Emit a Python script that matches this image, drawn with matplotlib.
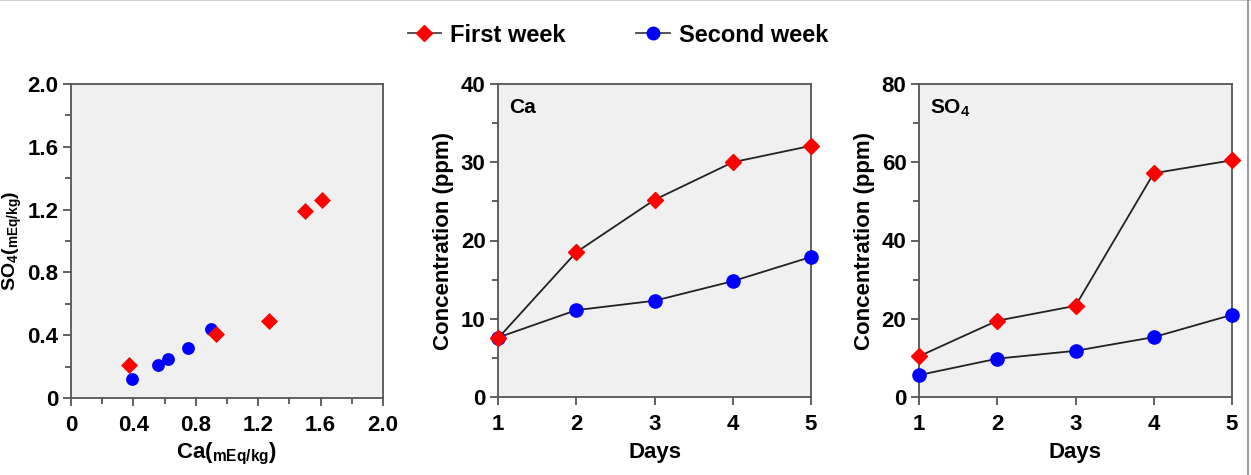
import numpy as np
import matplotlib
matplotlib.use("agg")
import matplotlib.pyplot as plt
from matplotlib.ticker import MultipleLocator
from matplotlib.lines import Line2D

plt.rcParams['font.family'] = ['Liberation Sans', 'DejaVu Sans']
plt.rcParams['font.weight'] = 'bold'
plt.rcParams['mathtext.fontset'] = 'custom'
plt.rcParams['mathtext.rm'] = 'Liberation Sans:bold'
plt.rcParams['mathtext.bf'] = 'Liberation Sans:bold'
plt.rcParams['mathtext.it'] = 'Liberation Sans:bold'

# scatter: Ca vs SO4 (mEq/kg)
ca_w1 = [0.37, 0.93, 1.27, 1.50, 1.61]
so4_w1 = [0.21, 0.41, 0.49, 1.19, 1.26]
ca_w2 = [0.39, 0.56, 0.62, 0.75, 0.90]
so4_w2 = [0.12, 0.21, 0.25, 0.32, 0.44]

# time series (ppm)
days = [1, 2, 3, 4, 5]
ca_ppm_w1 = [7.5, 18.5, 25.2, 30.0, 32.1]
ca_ppm_w2 = [7.6, 11.1, 12.3, 14.8, 17.9]
so4_ppm_w1 = [10.4, 19.5, 23.3, 57.2, 60.5]
so4_ppm_w2 = [5.6, 9.8, 11.8, 15.3, 21.0]

red = '#ff0000'
blue = '#0000ff'
bg = '#f0f0f0'
spine_c = '#555555'
fs = 16

fig = plt.figure(figsize=(12.51, 4.75), dpi=100)
W, H = 1251, 475

def add_ax(l, r, t, b):
    return fig.add_axes([l / W, 1 - b / H, (r - l) / W, (b - t) / H])

ax1 = add_ax(71, 383, 84, 398)
ax2 = add_ax(498, 811, 84, 397)
ax3 = add_ax(919, 1232, 84, 397)

def style(ax):
    ax.set_facecolor(bg)
    for s in ax.spines.values():
        s.set_color(spine_c)
        s.set_linewidth(1.3)
    ax.tick_params(which='both', direction='out', color=spine_c, width=1.3,
                   labelsize=fs)
    ax.tick_params(axis='x', pad=6)
    ax.tick_params(axis='y', pad=3)
    ax.tick_params(which='major', length=6)
    ax.tick_params(which='minor', length=4)
    for lab in ax.get_xticklabels() + ax.get_yticklabels():
        lab.set_fontweight('bold')

# panel 1
ax1.scatter(ca_w2, so4_w2, s=85, marker='o', color=blue, zorder=3, linewidths=0)
ax1.scatter(ca_w1, so4_w1, s=75, marker='D', color=red, zorder=4, linewidths=0)
ax1.set_xlim(0, 2.0)
ax1.set_ylim(0, 2.0)
ticks = [0, 0.4, 0.8, 1.2, 1.6, 2.0]
ticklabels = ['0', '0.4', '0.8', '1.2', '1.6', '2.0']
ax1.set_xticks(ticks, ticklabels)
ax1.set_yticks(ticks, ticklabels)
ax1.xaxis.set_minor_locator(MultipleLocator(0.2))
ax1.yaxis.set_minor_locator(MultipleLocator(0.2))
ax1.set_xlabel(r'Ca($\mathregular{_{mEq/kg}}$)', fontsize=fs, fontweight='bold', labelpad=4)
ax1.set_ylabel(r'SO$\mathregular{_4}$($\mathregular{_{mEq/kg}}$)', fontsize=14, fontweight='bold')
ax1.yaxis.set_label_coords(-0.15, 0.5)
style(ax1)

def series(ax, y1, y2, ymax, minor, name):
    ax.plot(days, y2, color='#222222', lw=1.3, marker='o', ms=9.5,
            mfc=blue, mec=blue, zorder=3, clip_on=False)
    ax.plot(days, y1, color='#222222', lw=1.3, marker='D', ms=8.5,
            mfc=red, mec=red, zorder=4, clip_on=False)
    ax.set_xlim(1, 5)
    ax.set_ylim(0, ymax)
    ax.set_xticks(days)
    ax.set_yticks(np.arange(0, ymax + 1, minor * 2))
    ax.yaxis.set_minor_locator(MultipleLocator(minor))
    ax.set_xlabel('Days', fontsize=fs, fontweight='bold', labelpad=5)
    ax.set_ylabel('Concentration (ppm)', fontsize=fs, fontweight='bold', labelpad=5)
    ax.text(0.035, 0.955, name, transform=ax.transAxes, fontsize=15,
            fontweight='bold', va='top', ha='left')
    style(ax)

series(ax2, ca_ppm_w1, ca_ppm_w2, 40, 5, 'Ca')
series(ax3, so4_ppm_w1, so4_ppm_w2, 80, 10, r'SO$\mathregular{_4}$')

# legend
h1, = ax2.plot([], [], color='#444444', lw=1.3, marker='D', ms=8, mfc=red, mec=red)
h2, = ax2.plot([], [], color='#444444', lw=1.3, marker='o', ms=9, mfc=blue, mec=blue)
fig.legend([h1, h2], ['First week', 'Second week'], loc='center',
           bbox_to_anchor=(618 / W, 1 - 35 / H), ncol=2, frameon=False,
           handlelength=1.4, columnspacing=3.0, handletextpad=0.4,
           prop={'size': 17, 'weight': 'bold'})

# thin frame lines at top and right edge, as in the screenshot
fig.add_artist(Line2D([0, 1], [0.999, 0.999], transform=fig.transFigure, color='#cccccc', lw=1.5))
fig.add_artist(Line2D([1248 / W, 1248 / W], [0, 1], transform=fig.transFigure, color='#888888', lw=1.2))

fig.savefig('out.png', dpi=100)
